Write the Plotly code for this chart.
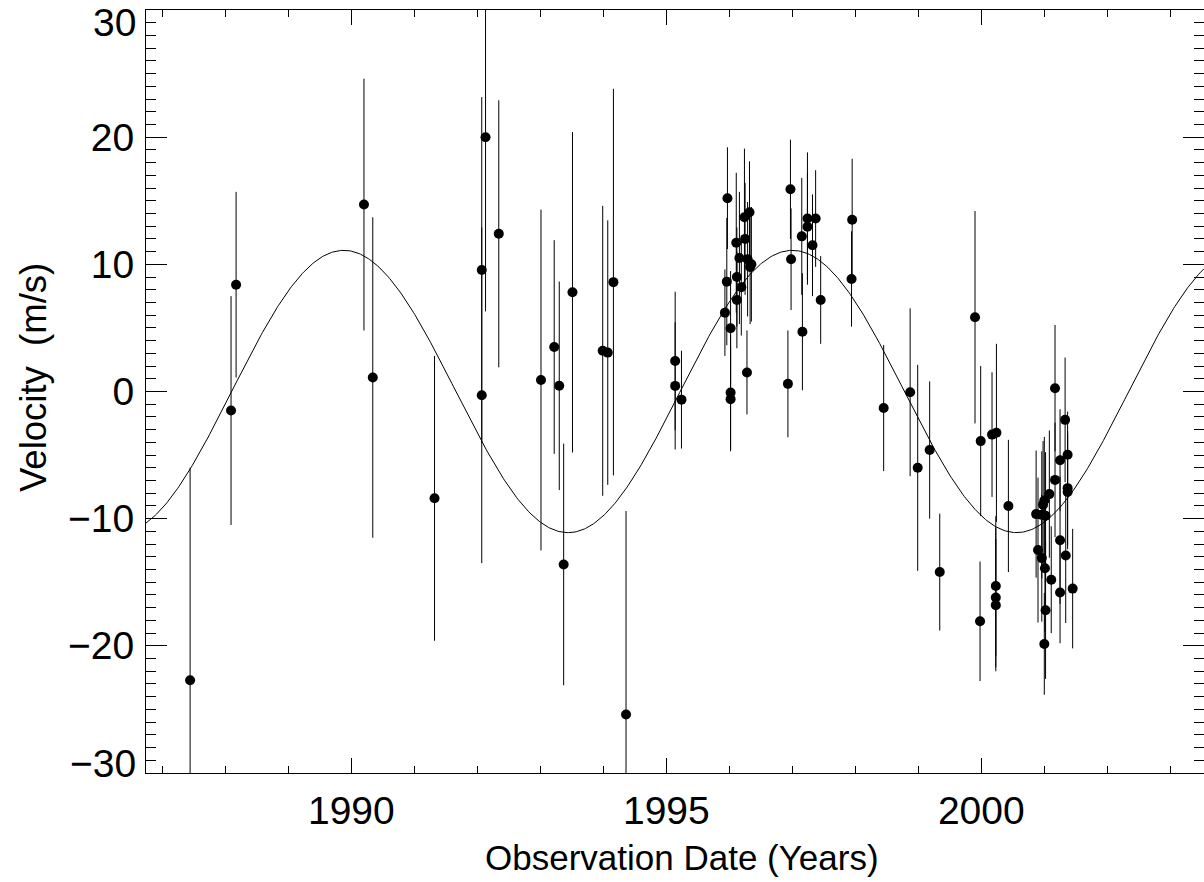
import numpy as np
import plotly.graph_objects as go

# Observation data: date (years), velocity (m/s), 1-sigma error (m/s)
years = [1987.44, 1988.09, 1988.17, 1990.20, 1990.34, 1991.32, 1992.07, 1992.07, 1992.13, 1992.34,
         1993.01, 1993.22, 1993.30, 1993.37, 1993.51, 1993.99, 1994.07, 1994.16, 1994.36, 1995.14,
         1995.14, 1995.24, 1995.97, 1995.96, 1995.93, 1996.02, 1996.02, 1996.02, 1996.11, 1996.24,
         1996.32, 1996.25, 1996.16, 1996.29, 1996.35, 1996.33, 1996.12, 1996.19, 1996.12, 1996.28,
         1996.97, 1996.98, 1996.93, 1997.15, 1997.16, 1997.24, 1997.24, 1997.37, 1997.32, 1997.45,
         1997.95, 1997.94, 1998.45, 1998.87, 1998.99, 1999.18, 1999.34, 1999.90, 1999.99, 1999.98,
         2000.17, 2000.24, 2000.23, 2000.23, 2000.23, 2000.43, 2001.17, 2001.33, 2001.37, 2001.25,
         2001.17, 2001.37, 2001.37, 2001.08, 2001.00, 2000.98, 2000.87, 2000.96, 2001.02, 2001.25,
         2001.34, 2000.90, 2000.96, 2001.01, 2001.11, 2001.25, 2001.45, 2001.02, 2001.00]
velocity = [-22.7, -1.5, 8.4, 14.7, 1.1, -8.4, 9.55, -0.3, 20.0, 12.4,
            0.9, 3.5, 0.45, -13.6, 7.8, 3.2, 3.06, 8.6, -25.4, 2.4,
            0.44, -0.64, 15.2, 8.64, 6.2, 4.97, -0.08, -0.6, 11.7, 13.7,
            14.1, 12.0, 10.5, 10.4, 10.0, 9.8, 9.0, 8.2, 7.2, 1.5,
            15.9, 10.4, 0.6, 12.2, 4.7, 13.6, 12.95, 13.6, 11.5, 7.2,
            13.5, 8.85, -1.3, -0.06, -6.0, -4.6, -14.2, 5.84, -3.9, -18.07,
            -3.39, -3.25, -15.3, -16.2, -16.8, -9.0, 0.26, -2.23, -4.98, -5.4,
            -6.95, -7.6, -7.9, -8.07, -8.57, -8.9, -9.64, -9.7, -9.77, -11.7,
            -12.9, -12.47, -13.1, -13.9, -14.8, -15.8, -15.5, -17.2, -19.85]
errors = [16.7, 9.0, 7.3, 9.9, 12.6, 11.2, 13.6, 13.2, 13.7, 10.5,
          13.4, 8.4, 8.2, 9.5, 12.6, 11.4, 10.4, 15.2, 16.0, 5.45,
          5.0, 3.85, 4.0, 5.0, 3.4, 4.5, 4.5, 4.1, 5.5, 5.4,
          4.0, 4.4, 5.2, 4.5, 4.5, 4.5, 3.9, 3.8, 3.8, 3.3,
          3.9, 4.0, 4.2, 4.6, 4.6, 5.2, 4.2, 3.8, 4.0, 3.45,
          4.8, 3.75, 4.96, 6.6, 8.1, 5.4, 4.6, 8.35, 5.9, 4.7,
          4.9, 7.0, 5.5, 5.5, 5.2, 5.2, 4.97, 4.9, 3.4, 4.0,
          4.5, 4.5, 4.5, 5.0, 5.0, 5.0, 5.0, 5.0, 5.0, 5.0,
          5.3, 5.7, 5.0, 5.0, 4.2, 4.0, 4.7, 5.4, 4.0]

# Sinusoidal orbit model parameters
K_AMP = 11.1      # semi-amplitude (m/s)
PERIOD = 7.12     # years
T_PEAK = 1989.88  # epoch of maximum velocity

X_RANGE = [1986.74, 2003.535]
Y_RANGE = [-30, 30]

t_model = np.linspace(X_RANGE[0], X_RANGE[1], 800)
v_model = K_AMP * np.cos(2 * np.pi * (t_model - T_PEAK) / PERIOD)

fig = go.Figure()
fig.add_trace(go.Scatter(x=t_model, y=v_model, mode="lines",
                         line=dict(color="black", width=1), hoverinfo="skip"))
fig.add_trace(go.Scatter(
    x=years, y=velocity, mode="markers",
    marker=dict(color="black", size=10),
    error_y=dict(type="data", array=errors, width=0, thickness=1, color="black"),
))

tick_font = dict(family="Liberation Sans, Arial, sans-serif", size=39, color="black")
xtitle_font = dict(family="Liberation Sans, Arial, sans-serif", size=35, color="black")
ytitle_font = dict(family="Liberation Sans, Arial, sans-serif", size=36.5, color="black")

fig.update_layout(
    width=1204, height=882,
    margin=dict(l=146, r=0, t=10, b=109),
    paper_bgcolor="white", plot_bgcolor="white",
    showlegend=False,
    xaxis=dict(
        range=X_RANGE, tickmode="array", tickvals=[1990, 1995, 2000],
        ticktext=["1990", "1995", "2000"],
        ticks="inside", ticklen=15, tickwidth=1, tickcolor="black",
        showline=True, linecolor="black", linewidth=1, mirror="ticks",
        showgrid=False, zeroline=False, tickfont=tick_font,
        ticklabelstandoff=3,
        minor=dict(dtick=1, tick0=1987, ticks="inside", ticklen=7, tickwidth=1,
                   tickcolor="black", showgrid=False),
    ),
    yaxis=dict(
        range=Y_RANGE, tickmode="array", tickvals=[-30, -20, -10, 0, 10, 20, 30],
        ticktext=["", "\u221220", "\u221210", "0", "10", "20", ""],
        ticks="inside", ticklen=21, tickwidth=1, tickcolor="black",
        showline=True, linecolor="black", linewidth=1, mirror="ticks",
        showgrid=False, zeroline=False, tickfont=tick_font,
        ticklabelstandoff=3,
        minor=dict(dtick=1, tick0=0, ticks="inside", ticklen=10, tickwidth=1,
                   tickcolor="black", showgrid=False),
    ),
    annotations=[
        dict(text="30", xref="paper", yref="y", x=0, y=30, xanchor="right", yanchor="middle",
             xshift=-8, yshift=-12, showarrow=False, font=tick_font),
        dict(text="\u221230", xref="paper", yref="y", x=0, y=-30, xanchor="right", yanchor="middle",
             xshift=-8, yshift=10, showarrow=False, font=tick_font),
        dict(text="Observation Date (Years)", xref="paper", yref="paper",
             x=(682 - 146) / 1058, y=(773 - 857) / 763, xanchor="center", yanchor="middle",
             showarrow=False, font=xtitle_font),
        dict(text="Velocity\u00a0 (m/s)", xref="paper", yref="paper", textangle=-90,
             x=(33 - 146) / 1058, y=(773 - 378) / 763, xanchor="center", yanchor="middle",
             showarrow=False, font=ytitle_font),
    ],
)

fig.write_html("out.html")
